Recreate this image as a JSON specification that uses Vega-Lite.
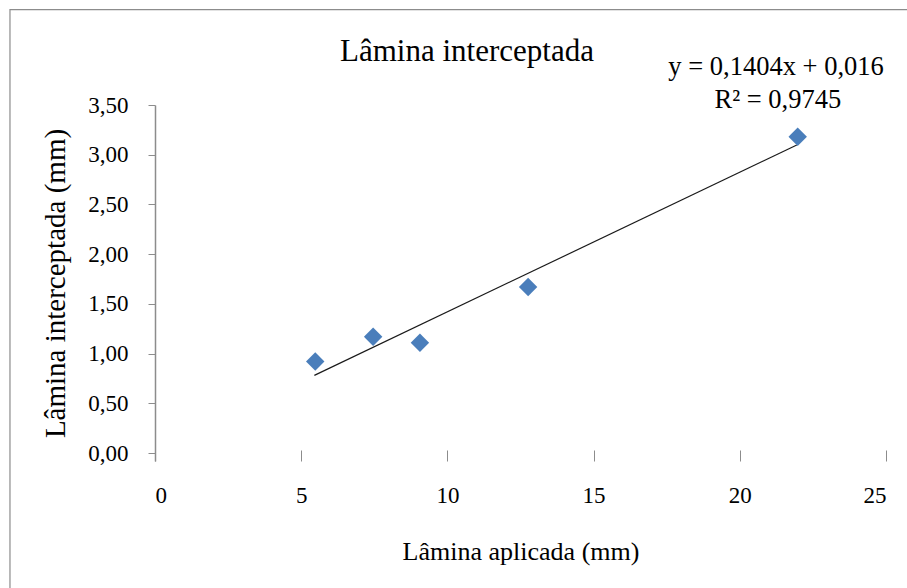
{
  "$schema": "https://vega.github.io/schema/vega-lite/v6.json",
  "width": 731,
  "height": 356,
  "autosize": {"type": "none"},
  "padding": {"left": 155, "top": 105, "right": 21, "bottom": 127},
  "background": "white",
  "config": {
    "view": {"stroke": null},
    "locale": {"number": {"decimal": ",", "thousands": ".", "grouping": [3], "currency": ["", ""]}},
    "font": "Liberation Serif",
    "axis": {"labelFont": "Liberation Serif", "titleFont": "Liberation Serif"},
    "text": {"font": "Liberation Serif"}
  },
  "datasets": {
    "pontos": [
      {"aplicada": 5.48, "interceptada": 0.92},
      {"aplicada": 7.46, "interceptada": 1.17},
      {"aplicada": 9.06, "interceptada": 1.11},
      {"aplicada": 12.76, "interceptada": 1.67},
      {"aplicada": 21.98, "interceptada": 3.18}
    ],
    "tendencia": [
      {"aplicada": 5.45, "interceptada": 0.781},
      {"aplicada": 21.95, "interceptada": 3.098}
    ]
  },
  "layer": [
    {
      "data": {"values": [{}]},
      "mark": {"type": "rect", "fillOpacity": 0, "stroke": "#8c8c8c", "strokeWidth": 1.2, "clip": false},
      "encoding": {
        "x": {"datum": -4.96, "type": "quantitative"},
        "x2": {"datum": 32},
        "y": {"datum": 4.46, "type": "quantitative"},
        "y2": {"datum": -3}
      }
    },
    {
      "data": {"name": "tendencia"},
      "mark": {"type": "line", "color": "#1a1a1a", "strokeWidth": 1.2, "clip": false},
      "encoding": {
        "x": {"field": "aplicada", "type": "quantitative"},
        "y": {"field": "interceptada", "type": "quantitative"}
      }
    },
    {
      "data": {"name": "pontos"},
      "mark": {"type": "point", "shape": "diamond", "filled": true, "size": 340, "color": "#4a7ebb", "opacity": 1},
      "encoding": {
        "x": {
          "field": "aplicada",
          "type": "quantitative",
          "scale": {"domain": [0, 25], "nice": false, "zero": false},
          "axis": {
            "title": "Lâmina aplicada (mm)",
            "values": [0, 5, 10, 15, 20, 25],
            "format": "d",
            "domain": false,
            "grid": false,
            "ticks": true,
            "tickSize": -11,
            "tickColor": "#8c8c8c",
            "tickWidth": 1,
            "labelFont": "Liberation Serif",
            "labelFontSize": 23,
            "labelColor": "#000000",
            "labelPadding": 34,
            "titleFont": "Liberation Serif",
            "titleFontSize": 26,
            "titleFontWeight": "normal",
            "titleColor": "#000000",
            "titlePadding": 31
          }
        },
        "y": {
          "field": "interceptada",
          "type": "quantitative",
          "scale": {"domain": [-0.08, 3.5], "nice": false, "zero": false},
          "axis": {
            "title": "Lâmina interceptada (mm)",
            "values": [0, 0.5, 1, 1.5, 2, 2.5, 3, 3.5],
            "format": ".2f",
            "domain": true,
            "domainColor": "#8c8c8c",
            "domainWidth": 1.5,
            "grid": false,
            "tickSize": 7,
            "tickColor": "#8c8c8c",
            "labelFont": "Liberation Serif",
            "labelFontSize": 23,
            "labelColor": "#000000",
            "labelPadding": 20,
            "titleFont": "Liberation Serif",
            "titleFontSize": 29,
            "titleFontWeight": "normal",
            "titleColor": "#000000",
            "titlePadding": 17
          }
        }
      }
    },
    {
      "data": {"values": [{}]},
      "mark": {"type": "text", "font": "Liberation Serif", "fontSize": 31, "color": "#000000", "align": "center", "baseline": "middle", "clip": false},
      "encoding": {
        "x": {"datum": 10.67, "type": "quantitative"},
        "y": {"datum": 4.03, "type": "quantitative"},
        "text": {"value": "Lâmina interceptada"}
      }
    },
    {
      "data": {"values": [{}]},
      "mark": {"type": "text", "font": "Liberation Serif", "fontSize": 26.5, "color": "#000000", "align": "center", "baseline": "middle", "clip": false},
      "encoding": {
        "x": {"datum": 21.24, "type": "quantitative"},
        "y": {"datum": 3.88, "type": "quantitative"},
        "text": {"value": "y = 0,1404x + 0,016"}
      }
    },
    {
      "data": {"values": [{}]},
      "mark": {"type": "text", "font": "Liberation Serif", "fontSize": 26.5, "color": "#000000", "align": "center", "baseline": "middle", "clip": false},
      "encoding": {
        "x": {"datum": 21.3, "type": "quantitative"},
        "y": {"datum": 3.55, "type": "quantitative"},
        "text": {"value": "R² = 0,9745"}
      }
    }
  ]
}
